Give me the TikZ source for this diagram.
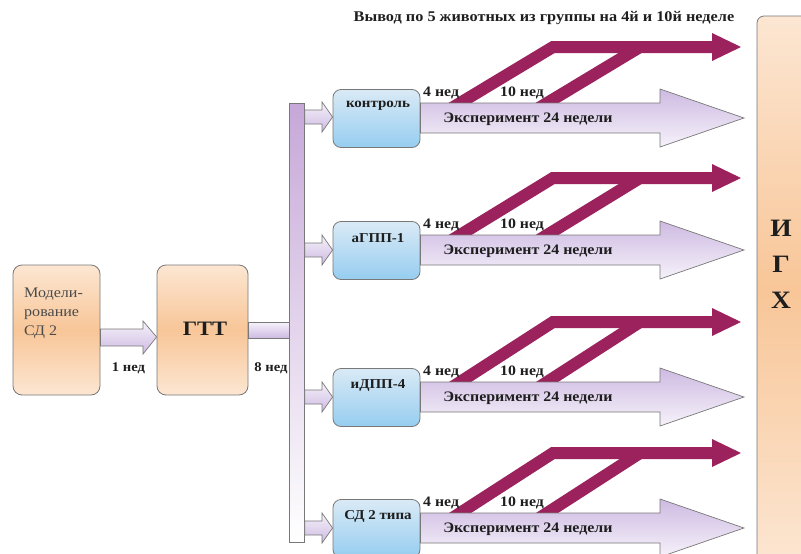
\documentclass[tikz,border=0pt]{standalone}
\usepackage{fontspec}
\setmainfont[FakeStretch=1.1]{Liberation Serif}
\usetikzlibrary{calc}
\definecolor{mag}{RGB}{155,34,92}
\definecolor{edge}{RGB}{120,120,120}
\definecolor{orTop}{RGB}{252,230,210}
\definecolor{orMid}{RGB}{248,198,152}
\definecolor{blTop}{RGB}{218,234,246}
\definecolor{blBot}{RGB}{150,205,240}
\definecolor{lavA}{RGB}{206,186,226}
\definecolor{lavB}{RGB}{246,242,250}
\definecolor{txt}{RGB}{30,30,30}
\tikzset{
  orbox/.style={draw=edge, line width=0.8pt, rounded corners=9pt, top color=orTop, bottom color=orTop, middle color=orMid},
  bluebox/.style={draw=edge, line width=0.8pt, rounded corners=8pt, top color=blTop, bottom color=blBot, minimum width=87pt, minimum height=58pt},
  bigarrow/.style={draw=edge, line width=0.7pt, top color=lavA, bottom color=lavB},
  smallarrow/.style={draw=edge, line width=0.7pt, top color=lavB, bottom color=lavA},
  magline/.style={draw=mag, line width=12pt, line join=miter},
  lbl/.style={font=\fontsize{14.4}{16}\selectfont\bfseries, text=txt, inner sep=0pt},
}
\begin{document}
\begin{tikzpicture}[x=1pt,y=-1pt]
\useasboundingbox (0,0) rectangle (801,554);
% top title
\node[lbl, font=\fontsize{14.8}{16}\selectfont\bfseries] (title) at (544,18) {Вывод по 5 животных из группы на 4й и 10й неделе};
% IGH box
\node[orbox, rounded corners=7pt, minimum width=60pt, minimum height=548pt] (igh) at (787,290) {};
\node[text=txt, font=\fontsize{25}{36}\selectfont\bfseries, align=center, inner sep=0pt] (ightext) at (781,264) {И\\Г\\Х};
% rows
\foreach \c/\m/\t [count=\i] in {118/47/контроль, 250/178/аГПП-1, 397/322/иДПП-4, 528/453/СД 2 типа}{
  \begin{scope}
    \clip (0,0) rectangle (801,\c-15);
    \draw[magline] ($(460,\c-15)!-0.3!(553,\m)$) -- (553,\m) -- (713,\m);
    \draw[magline] ($(547,\c-15)!-0.3!(640,\m)$) -- (640,\m);
  \end{scope}
  \fill[mag] (712,\m-14) -- (741,\m) -- (712,\m+14) -- cycle;
  \node[bluebox] (b\i) at (376.5,\c+0.5) {};
  \draw[bigarrow] ($(b\i.east)+(0,-15.5)$) coordinate (s\i) -- (660,\c-15) -- (660,\c-29) -- (744,\c) -- (660,\c+29) -- (660,\c+15) -- ($(b\i.east)+(0,14.5)$) -- cycle;
  \node[lbl, font=\fontsize{14.5}{16}\selectfont\bfseries] (e\i) at (528,\c+1) {Эксперимент 24 недели};
  \node[lbl, anchor=west] (w4\i) at (423,\c-25) {4 нед};
  \node[lbl, anchor=west] (w10\i) at (500,\c-25) {10 нед};
  \node[lbl, font=\fontsize{13.6}{15}\selectfont\bfseries] (t\i) at (378,\c-12) {\t};
}
% vertical bar
\node[draw=edge, line width=0.7pt, top color=lavA!90!violet, bottom color=white, minimum width=15pt, minimum height=439pt, inner sep=0pt] (bar) at (297,322.5) {};
\foreach \c [count=\i] in {117,250,397,528}{
  \draw[smallarrow] (bar.east |- 0,\c-7) -- (322,\c-7) -- (322,\c-15) -- (b\i.west |- 0,\c) -- (322,\c+15) -- (322,\c+7) -- (bar.east |- 0,\c+7) -- cycle;
}
% left boxes
\node[orbox, minimum width=87pt, minimum height=130pt] (model) at (56.5,330) {};
\node[text=txt!80, font=\fontsize{14.6}{19}\selectfont, align=left, anchor=north west, inner sep=0pt] (modeltext) at (24,288) {Модели-\\рование\\СД 2};
\node[orbox, minimum width=91pt, minimum height=130pt] (gtt) at (202.5,330) {};
\node[text=txt, font=\fontsize{20.5}{22}\selectfont\bfseries, inner sep=0pt] (gtttext) at (205,329) {ГТТ};
\draw[smallarrow] (model.east |- 0,329) -- (143,329) -- (143,321) -- (gtt.west |- 0,337) -- (143,354) -- (143,346) -- (model.east |- 0,346) -- cycle;
\draw[smallarrow] (gtt.east |- 0,322) -- (bar.west |- 0,322) -- (bar.west |- 0,338) -- (gtt.east |- 0,338) -- cycle;
\node[lbl, font=\fontsize{13.3}{15}\selectfont\bfseries] (n1) at (128.5,368) {1 нед};
\node[lbl, font=\fontsize{13.3}{15}\selectfont\bfseries] (n8) at (271,368) {8 нед};
\end{tikzpicture}
\end{document}
